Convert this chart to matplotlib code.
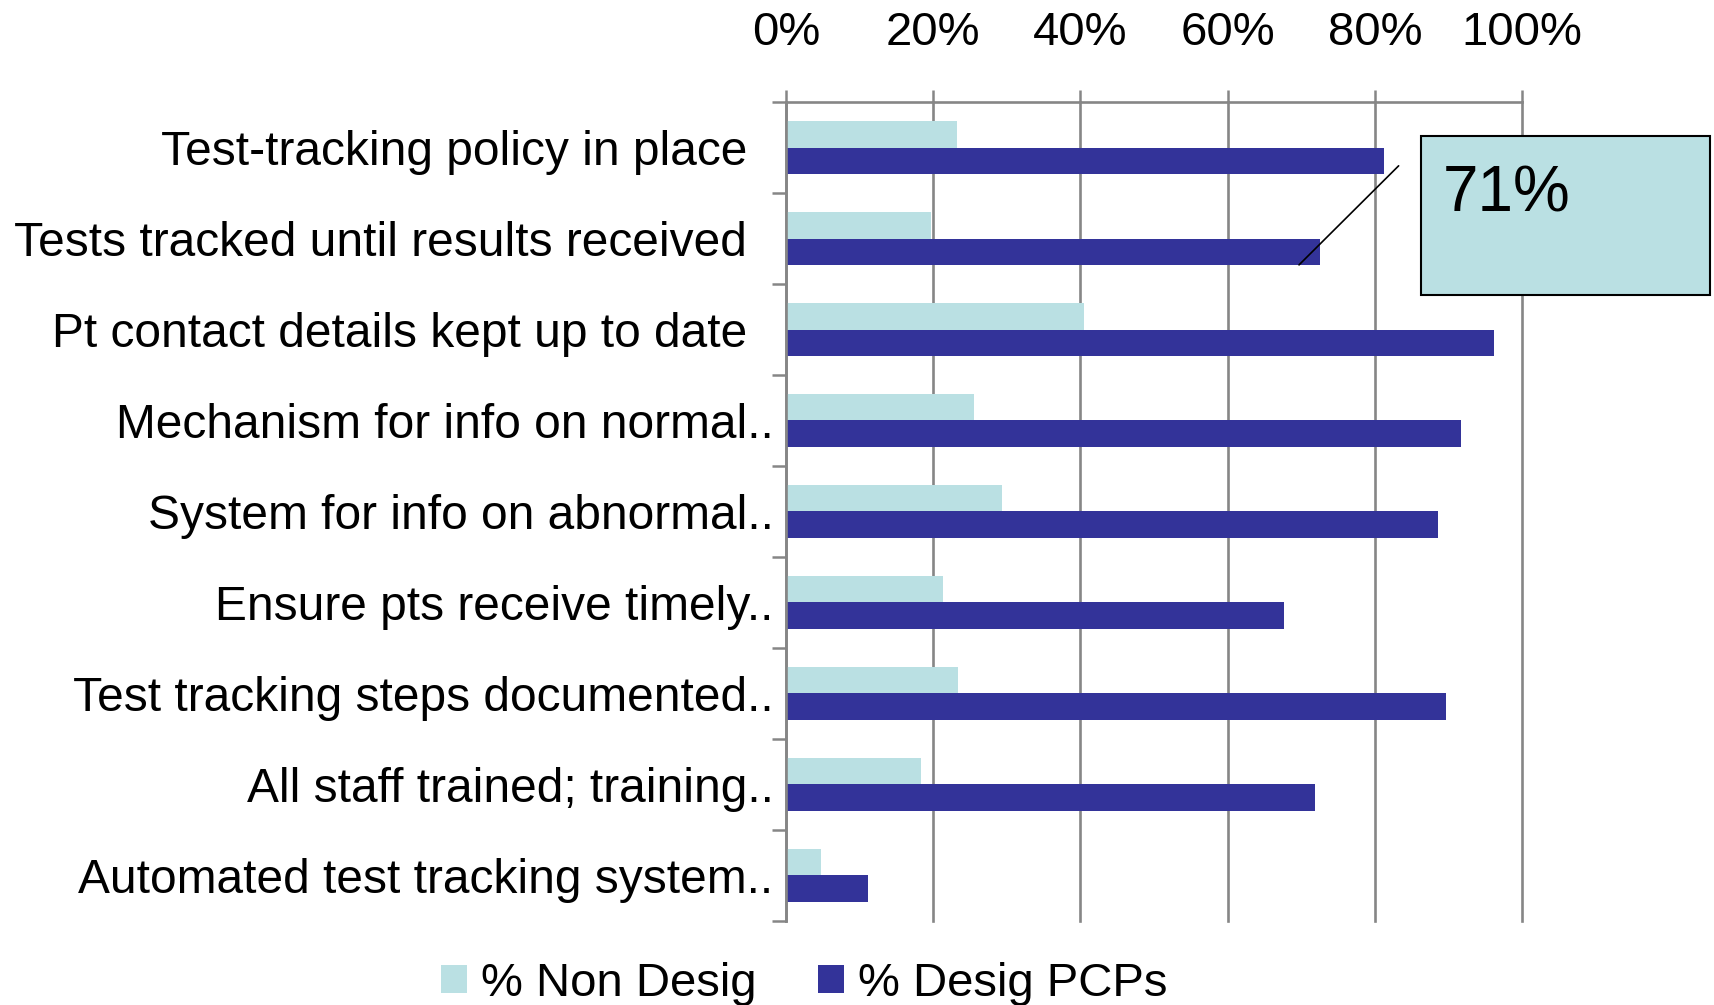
import numpy as np
import matplotlib
matplotlib.use("Agg")
import matplotlib.pyplot as plt
from matplotlib.patches import Rectangle

# categories, top to bottom
CATEGORIES = [
    "Test-tracking policy in place  ",
    "Tests tracked until results received  ",
    "Pt contact details kept up to date  ",
    "Mechanism for info on normal..",
    "System for info on abnormal..",
    "Ensure pts receive timely..",
    "Test tracking steps documented..",
    "All staff trained; training..",
    "Automated test tracking system..",
]
NON_DESIG = [23.2, 19.7, 40.5, 25.6, 29.3, 21.3, 23.3, 18.3, 4.7]
DESIG_PCPS = [81.3, 72.5, 96.2, 91.7, 88.6, 67.6, 89.7, 71.9, 11.1]
SERIES_NAMES = ["% Non Desig", "% Desig PCPs"]
XTICKS = [0, 20, 40, 60, 80, 100]
CALLOUT_TEXT = "71%"

LIGHT = "#bae0e3"
DARK = "#333399"
GRID = "#868686"

plt.rcParams['font.family'] = ['Liberation Sans', 'DejaVu Sans']

fig = plt.figure(figsize=(17.14, 10.05), dpi=100)
ax = fig.add_axes([0.4586, 0.0836, 0.4294, 0.8149])

y = np.arange(len(CATEGORIES))
h = 0.29
ax.barh(y - h / 2, NON_DESIG, height=h, color=LIGHT, label=SERIES_NAMES[0])
ax.barh(y + h / 2, DESIG_PCPS, height=h, color=DARK, label=SERIES_NAMES[1])

ax.set_xlim(0, 100)
ax.set_ylim(len(CATEGORIES) - 0.5, -0.5)

# x axis on top
ax.xaxis.tick_top()
ax.set_xticks(XTICKS)
ax.set_xticklabels([f"{v}%" for v in XTICKS], fontsize=34)
ax.tick_params(axis='x', direction='out', length=9, width=1.8, color=GRID, pad=25)
ax.grid(axis='x', color=GRID, linewidth=1.9)
ax.set_axisbelow(True)
for gl in ax.get_xgridlines():
    gl.set_clip_on(False)

# categories, ticks between them
ax.set_yticks(y)
ax.set_yticklabels(CATEGORIES, fontsize=34.5)
ax.tick_params(axis='y', which='major', length=0, pad=9)
ax.set_yticks(np.arange(len(CATEGORIES) + 1) - 0.5, minor=True)
ax.tick_params(axis='y', which='minor', length=10, width=1.8, color=GRID)

for s in ['right', 'bottom']:
    ax.spines[s].set_visible(False)
for s in ['left', 'top']:
    ax.spines[s].set_color(GRID)
    ax.spines[s].set_linewidth(1.9)

# callout box for the second bar
fig.patches.append(Rectangle((0.829, 0.7065), 0.1686, 0.158, transform=fig.transFigure,
                             facecolor=LIGHT, edgecolor='black', linewidth=1.5, zorder=5))
fig.text(0.842, 0.790, CALLOUT_TEXT, fontsize=46, va='baseline', ha='left', zorder=6)
ax.annotate("", xy=(DESIG_PCPS[1] - 2.8, 1 + h), xycoords='data',
            xytext=(0.816, 0.835), textcoords='figure fraction',
            arrowprops=dict(arrowstyle='-', color='black', lw=1.2, shrinkA=0, shrinkB=0),
            annotation_clip=False)

fig.legend(loc='center', bbox_to_anchor=(0.469, 0.021), ncol=2, frameon=False,
           fontsize=34, handlelength=0.55, handleheight=0.55, handletextpad=0.3,
           columnspacing=1.3, borderpad=0)

fig.savefig("out.png", dpi=100)
